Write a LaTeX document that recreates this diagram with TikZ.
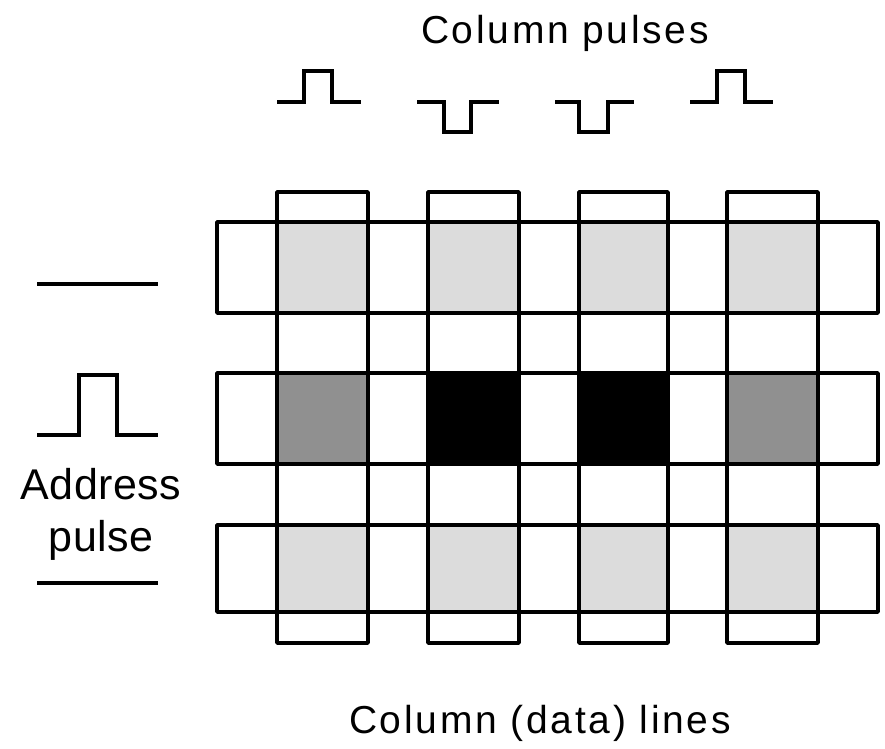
\documentclass[tikz,border=0pt]{standalone}
\usepackage{fontspec}
\setmainfont{Liberation Sans}[LetterSpace=7]
\definecolor{litegray}{HTML}{DCDCDC}
\definecolor{midgray}{HTML}{909090}
\tikzset{
  bar/.style={draw=black,line width=3.6pt,line join=round},
  pulse/.style={draw=black,line width=3.6pt},
  label/.style={font=\fontsize{39}{35}\selectfont,inner sep=0pt,anchor=base,align=center}
}
\begin{document}
\begin{tikzpicture}[x=1pt,y=-1pt]
      \useasboundingbox (0,0) rectangle (885,748);
      \draw
        (565,43) node[label] (colpulses){Column pulses}
        (540,733) node[label] (collines){Column (data) lines}
        (101,551) node[label,font=\fontsize{43}{52}\selectfont\addfontfeature{LetterSpace=1}] (addr){Address\\pulse};
      \begin{scope}
        \fill[litegray] (277,222) rectangle (368,313);
        \fill[litegray] (428,222) rectangle (519,313);
        \fill[litegray] (579,222) rectangle (668,313);
        \fill[litegray] (727,222) rectangle (818,313);
        \fill[midgray] (277,373) rectangle (368,464);
        \fill[black] (428,373) rectangle (519,464);
        \fill[black] (579,373) rectangle (668,464);
        \fill[midgray] (727,373) rectangle (818,464);
        \fill[litegray] (277,525) rectangle (368,612);
        \fill[litegray] (428,525) rectangle (519,612);
        \fill[litegray] (579,525) rectangle (668,612);
        \fill[litegray] (727,525) rectangle (818,612);
      \end{scope}
      \begin{scope}[bar]
        \draw (217,222) rectangle (878,313);
        \draw (217,373) rectangle (878,464);
        \draw (217,525) rectangle (878,612);
        \draw (277,192) rectangle (368,643);
        \draw (428,192) rectangle (519,643);
        \draw (579,192) rectangle (668,643);
        \draw (727,192) rectangle (818,643);
      \end{scope}
      \begin{scope}[pulse]
        \draw (277,102) -- (304,102) -- (304,71) -- (332,71) -- (332,102) -- (361,102);
        \draw (417,102) -- (444,102) -- (444,132) -- (471,132) -- (471,102) -- (499,102);
        \draw (555,102) -- (579,102) -- (579,132) -- (608,132) -- (608,102) -- (634,102);
        \draw (690,102) -- (717,102) -- (717,71) -- (745,71) -- (745,102) -- (773,102);
        \draw (37,284) -- (158,284);
        \draw (37,435) -- (79,435) -- (79,375) -- (117,375) -- (117,435) -- (158,435);
        \draw (37,583) -- (158,583);
      \end{scope}
    \end{tikzpicture}
\end{document}
